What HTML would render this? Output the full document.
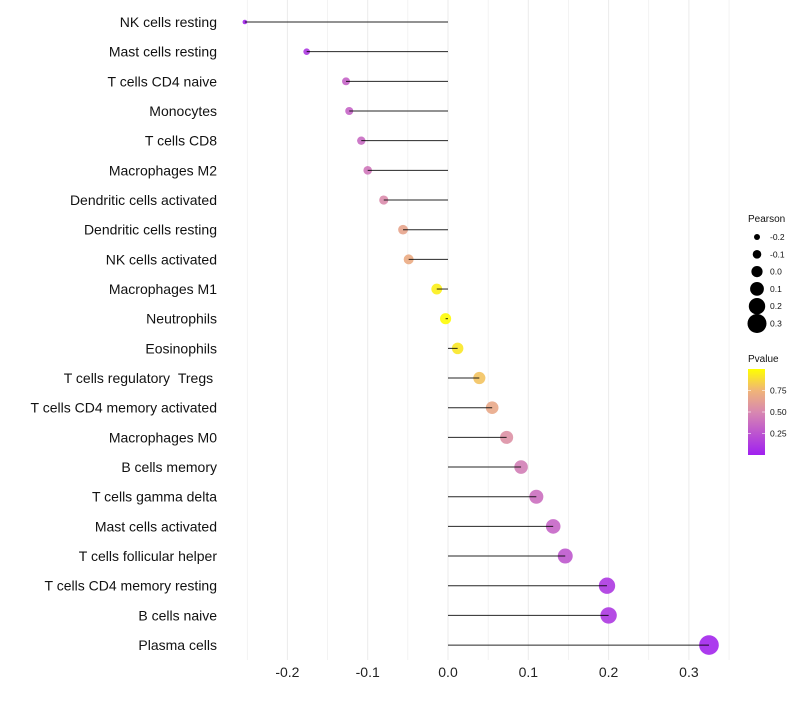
<!DOCTYPE html>
<html><head><meta charset="utf-8"><style>
body{margin:0;background:#fff;font-family:"Liberation Sans",sans-serif}
</style></head><body>
<svg id="chart" width="800" height="700" xmlns="http://www.w3.org/2000/svg" font-family="Liberation Sans, sans-serif"></svg>
<script>
const categories=["NK cells resting","Mast cells resting","T cells CD4 naive","Monocytes","T cells CD8","Macrophages M2","Dendritic cells activated","Dendritic cells resting","NK cells activated","Macrophages M1","Neutrophils","Eosinophils","T cells regulatory\u00a0\u00a0Tregs\u00a0","T cells CD4 memory activated","Macrophages M0","B cells memory","T cells gamma delta","Mast cells activated","T cells follicular helper","T cells CD4 memory resting","B cells naive","Plasma cells"];
const pearson=[-0.253,-0.176,-0.127,-0.123,-0.108,-0.1,-0.08,-0.056,-0.049,-0.014,-0.003,0.012,0.039,0.055,0.073,0.091,0.11,0.131,0.146,0.198,0.2,0.325];
const pvalue=[0.03,0.12,0.32,0.33,0.36,0.42,0.52,0.66,0.7,0.95,0.99,0.92,0.8,0.68,0.55,0.45,0.38,0.33,0.27,0.12,0.12,0.03];
const xTicks=[-0.2,-0.1,0.0,0.1,0.2,0.3];
const xTickLabels=["-0.2","-0.1","0.0","0.1","0.2","0.3"];
const sizeLegend=[-0.2,-0.1,0.0,0.1,0.2,0.3];
const pLegend=[0.25,0.5,0.75];

const svg=document.getElementById('chart');
const NS='http://www.w3.org/2000/svg';
function mk(t,a,p){const e=document.createElementNS(NS,t);for(const k in a)e.setAttribute(k,a[k]);(p||svg).appendChild(e);return e;}
const x=v=>448+v*803;
const y=i=>22+i*29.67;
const r=v=>Math.max(1.5,3+(v+0.2)*13);
function col(p){
 const stops=[[0,[160,32,240]],[0.5,[216,136,176]],[0.75,[240,180,120]],[1,[255,255,0]]];
 for(let i=1;i<stops.length;i++){if(p<=stops[i][0]){const a=stops[i-1],b=stops[i],t=(p-a[0])/(b[0]-a[0]);return 'rgb('+a[1].map((c,j)=>Math.round(c+(b[1][j]-c)*t)).join(',')+')';}}
 return 'rgb(255,255,0)';
}
for(let v=-0.25;v<=0.351;v+=0.05){
 const g=mk('line',{x1:x(v),x2:x(v),y1:0,y2:660,stroke:'#ebebeb','stroke-width':Math.abs(Math.round(v*100)%10)===5?0.6:1});
 
 
}
xTicks.forEach((v,i)=>{
 const t=mk('text',{x:x(v),y:677,'text-anchor':'middle','font-size':14,fill:'#222'});t.textContent=xTickLabels[i];
 
 
});
categories.forEach((c,i)=>{
 const t=mk('text',{x:217,y:y(i)+5,'text-anchor':'end','font-size':14,fill:'#111'});t.textContent=c;
 
 
 const d=mk('circle',{cx:x(pearson[i]),cy:y(i),r:r(pearson[i]),fill:col(pvalue[i]),'fill-opacity':0.9});
 
 
 const l=mk('line',{x1:x(0),x2:x(pearson[i]),y1:y(i),y2:y(i),stroke:'#000','stroke-width':1,'stroke-opacity':0.85});
 
 
});
const lt=mk('text',{x:748,y:222,'font-size':10,fill:'#111'});lt.textContent='Pearson';


sizeLegend.forEach((v,i)=>{
 const cy=237+i*17.3;
 const c=mk('circle',{cx:757,cy:cy,r:r(v),fill:'#000'});
 
 
 const t=mk('text',{x:770,y:cy+3,'font-size':8.5,fill:'#111'});t.textContent=v.toFixed(1);
 
 
});
const pt=mk('text',{x:748,y:362,'font-size':10,fill:'#111'});pt.textContent='Pvalue';


const defs=mk('defs',{});
const grad=mk('linearGradient',{id:'pg',x1:0,y1:1,x2:0,y2:0},defs);
[0,0.5,0.75,1].forEach(o=>mk('stop',{offset:o,'stop-color':col(o)},grad));
const cb=mk('rect',{x:748,y:369,width:17,height:86,fill:'url(#pg)'});


pLegend.forEach(p=>{
 const cy=455-p*86;
 mk('line',{x1:748,x2:751,y1:cy,y2:cy,stroke:'#fff','stroke-width':0.6});
 mk('line',{x1:762,x2:765,y1:cy,y2:cy,stroke:'#fff','stroke-width':0.6});
 const t=mk('text',{x:770,y:cy+3,'font-size':8.5,fill:'#111'});t.textContent=p.toFixed(2);
 
 
});
</script>
</body></html>
